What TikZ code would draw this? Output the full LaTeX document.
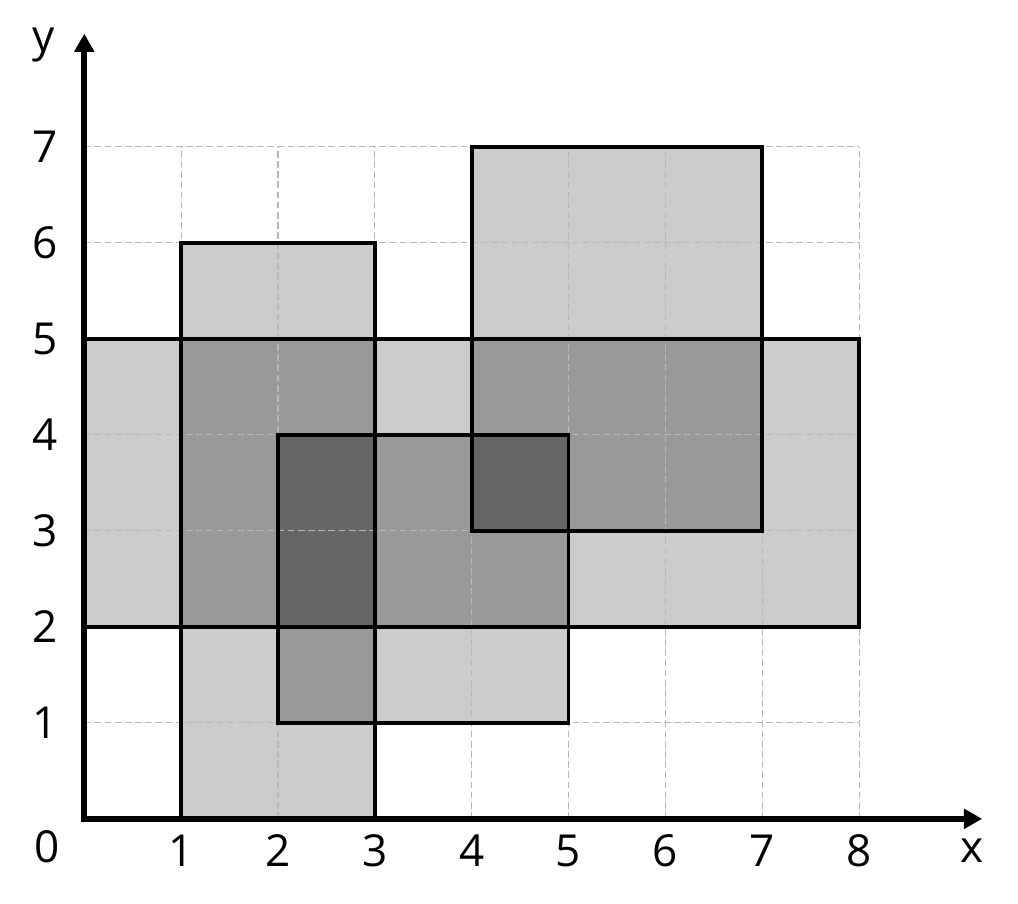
\documentclass[tikz,border=0pt]{standalone}
\usepackage{fontspec}
\setmainfont{Open Sans}
\usetikzlibrary{arrows.meta}
\definecolor{cellA}{HTML}{CCCCCC}
\definecolor{cellB}{HTML}{999999}
\definecolor{cellC}{HTML}{666666}

\begin{document}
\begin{tikzpicture}[x=1.004cm,y=0.995cm,>={Triangle[length=1.9mm,width=2mm]},
  lbl/.style={font=\fontsize{13}{15}\selectfont,inner sep=0pt}]
\useasboundingbox (-0.87,-0.88) rectangle (9.64,8.53);
% one cover
\fill[cellA] (1,0) rectangle (3,6);
\fill[cellA] (0,2) rectangle (8,5);
\fill[cellA] (4,3) rectangle (7,7);
\fill[cellA] (2,1) rectangle (5,4);
% two covers
\fill[cellB] (1,2) rectangle (3,5);
\fill[cellB] (2,1) rectangle (3,4);
\fill[cellB] (4,3) rectangle (7,5);
\fill[cellB] (2,2) rectangle (5,4);
% three covers
\fill[cellC] (2,2) rectangle (3,4);
\fill[cellC] (4,3) rectangle (5,4);
% grid
\foreach \i in {1,...,8} \draw[black!28,line width=0.3pt,dash pattern=on 2pt off 1pt] (\i,0)--(\i,7);
\foreach \j in {1,...,7} \draw[black!28,line width=0.3pt,dash pattern=on 2pt off 1pt] (0,\j)--(8,\j);
% outlines
\draw[line width=1.1pt] (1,0) rectangle (3,6);
\draw[line width=1.1pt] (0,2) rectangle (8,5);
\draw[line width=1.1pt] (4,3) rectangle (7,7);
\draw[line width=1.1pt] (2,1) rectangle (5,4);
% axes
\draw[->,line width=1.8pt] (-0.03,0)--(9.27,0);
\draw[->,line width=1.8pt] (0,-0.03)--(0,8.18);
\foreach \i in {1,...,8} \node[lbl] (tx\i) at (\i,-0.33) {\i};
\foreach \j in {1,...,7} \node[lbl] (ty\j) at (-0.40,\j) {\j};
\node[lbl] (o) at (-0.38,-0.29) {0};
\node[lbl] (xl) at (9.17,-0.33) {x};
\node[lbl] (yl) at (-0.42,8.06) {y};
\end{tikzpicture}
\end{document}
